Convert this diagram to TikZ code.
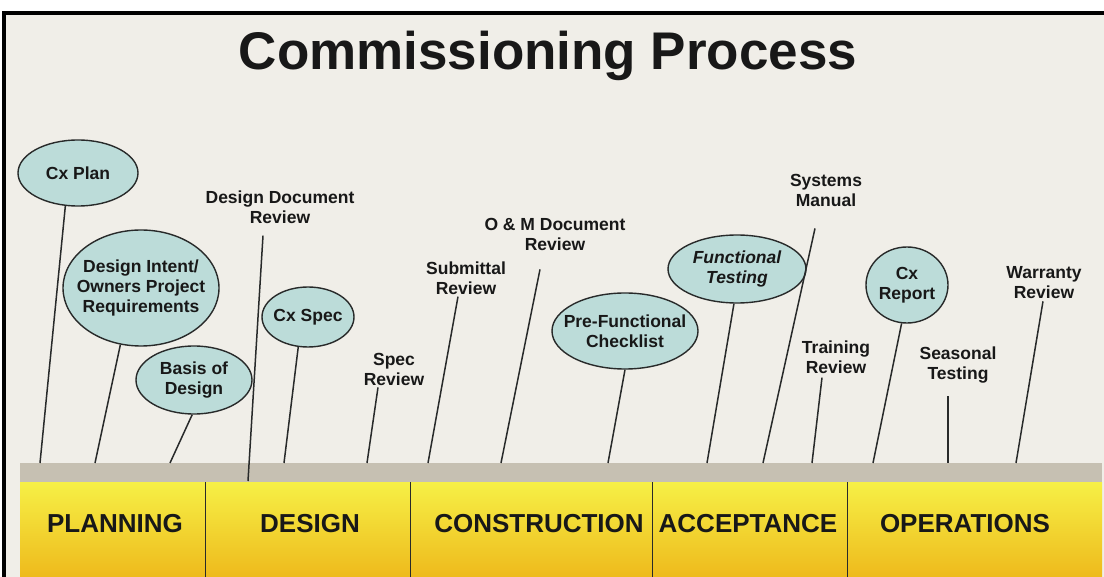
\documentclass[tikz,border=0pt]{standalone}
\usepackage{fontspec}
\setmainfont{Liberation Sans}
\usetikzlibrary{shapes.geometric}
\definecolor{bgpaper}{RGB}{240,238,232}
\definecolor{ink}{RGB}{24,24,24}
\definecolor{linegray}{RGB}{40,42,42}
\definecolor{bubblefill}{RGB}{188,220,217}
\definecolor{stripgray}{RGB}{198,192,178}
\definecolor{barTop}{RGB}{246,240,70}
\definecolor{barMid}{RGB}{250,232,0}
\definecolor{barBot}{RGB}{238,186,28}
\begin{document}
\begin{tikzpicture}[x=1pt,y=-1pt,
  bubble/.style={ellipse,draw=linegray,line width=1.4pt,fill=bubblefill,inner sep=0pt},
  tag/.style={font=\bfseries\fontsize{17.5}{20}\selectfont,text=ink,align=center,inner sep=2pt},
  phase/.style={font=\bfseries\fontsize{26}{30}\selectfont,text=ink},
  stick/.style={draw=linegray,line width=1.5pt}]
\useasboundingbox (0,0) rectangle (1104,577);
\fill[white] (0,0) rectangle (1104,577);
\fill[bgpaper] (4,13) rectangle (1104,577);
\draw[line width=4pt] (4,577) -- (4,13) -- (1104,13);

\node [font=\bfseries\fontsize{53}{60}\selectfont,text=ink] (title) at (548,56) {Commissioning Process};

\fill[stripgray] (20,463) rectangle (1102,482);
\shade[top color=barTop,middle color=barMid,bottom color=barBot] (20,482) rectangle (1102,577);
\draw[linegray] (205,482) -- (205,577);
\draw[linegray] (410,482) -- (410,577);
\draw[linegray] (652,482) -- (652,577);
\draw[linegray] (847,482) -- (847,577);

\node [phase] (planning) at (115,524) {PLANNING};
\node [phase] (design) at (310,524) {DESIGN};
\node [phase] (construction) at (539,524) {CONSTRUCTION};
\node [phase] (acceptance) at (748,524) {ACCEPTANCE};
\node [phase] (operations) at (965,524) {OPERATIONS};

\node [bubble,minimum width=120pt,minimum height=66pt,label={[tag]center:Cx Plan}] (cxplan) at (78,173) {};
\node [bubble,minimum width=156pt,minimum height=116pt,label={[tag]center:{Design Intent/\\Owners Project\\Requirements}}] (intent) at (141,288) {};
\node [bubble,minimum width=116pt,minimum height=68pt,label={[tag]center:{Basis of\\Design}}] (basis) at (194,380) {};
\node [bubble,minimum width=92pt,minimum height=60pt,label={[tag]center:Cx Spec}] (cxspec) at (308,317) {};
\node [bubble,minimum width=146pt,minimum height=76pt,label={[tag]center:{Pre-Functional\\Checklist}}] (prefunc) at (625,331) {};
\node [bubble,minimum width=138pt,minimum height=68pt,label={[tag,font=\bfseries\itshape\fontsize{17.5}{20}\selectfont]center:{Functional\\Testing}}] (functest) at (737,269) {};
\node [bubble,minimum width=82pt,minimum height=76pt,label={[tag]center:{Cx\\Report}}] (cxreport) at (907,285) {};

\node [tag] (docrev) at (280,207) {Design Document\\Review};
\node [tag] (specrev) at (394,369) {Spec\\Review};
\node [tag] (subrev) at (466,278) {Submittal\\Review};
\node [tag] (omrev) at (555,234) {O \& M Document\\Review};
\node [tag] (sysman) at (826,190) {Systems\\Manual};
\node [tag] (trainrev) at (836,357) {Training\\Review};
\node [tag] (seastest) at (958,365) {Seasonal\\Testing};
\node [tag] (warrev) at (1044,283) {Warranty\\Review};

\coordinate (cxplanb) at (40,463);
\coordinate (intentb) at (95,463);
\coordinate (basisb) at (170,463);
\coordinate (docrevb) at (248,481);
\coordinate (cxspecb) at (284,463);
\coordinate (specrevb) at (367,463);
\coordinate (subrevb) at (428,463);
\coordinate (omrevb) at (501,463);
\coordinate (prefuncb) at (608,463);
\coordinate (functestb) at (707,463);
\coordinate (sysmanb) at (763,463);
\coordinate (trainrevb) at (812,463);
\coordinate (cxreportb) at (873,463);
\coordinate (seastestb) at (948,463);
\coordinate (warrevb) at (1016,463);

\draw[stick] (cxplan.249) -- (cxplanb);
\draw[stick] (intent.250) -- (intentb);
\draw[stick] (basis.267) -- (basisb);
\draw[stick] (cxspec.252) -- (cxspecb);
\draw[stick] (prefunc.270) -- (prefuncb);
\draw[stick] (functest.265) -- (functestb);
\draw[stick] (cxreport.262) -- (cxreportb);

\draw[stick] ([shift={(-17,10)}]docrev.south) -- (docrevb);
\draw[stick] ([shift={(-16,0)}]specrev.south) -- (specrevb);
\draw[stick] ([shift={(-8,0)}]subrev.south) -- (subrevb);
\draw[stick] ([shift={(-15,17)}]omrev.south) -- (omrevb);
\draw[stick] ([shift={(-11,20)}]sysman.south) -- (sysmanb);
\draw[stick] ([shift={(-14,2)}]trainrev.south) -- (trainrevb);
\draw[stick] ([shift={(-10,11)}]seastest.south) -- (seastestb);
\draw[stick] ([shift={(-1,0)}]warrev.south) -- (warrevb);

\end{tikzpicture}
\end{document}
